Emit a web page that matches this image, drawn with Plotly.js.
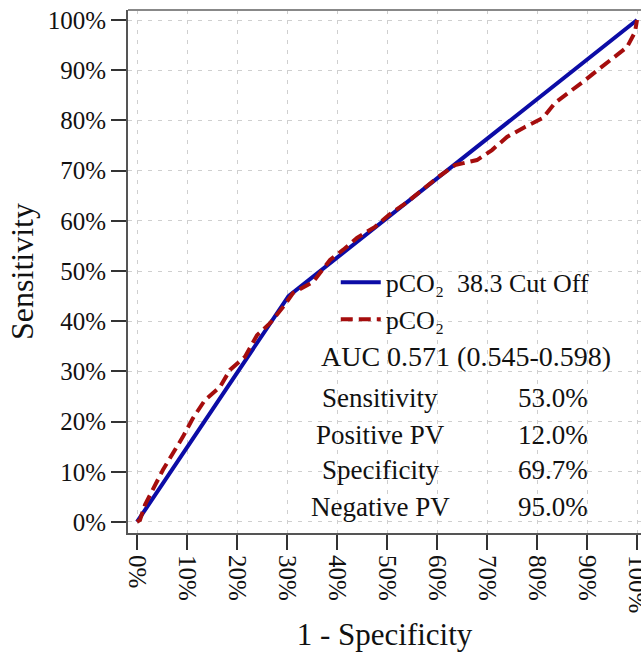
<!DOCTYPE html>
<html>
<head>
<meta charset="utf-8">
<script src="https://cdn.plot.ly/plotly-3.0.1.min.js"></script>
<style>html,body{margin:0;padding:0;background:#fff;}#chart{width:641px;height:652px;}</style>
</head>
<body>
<div id="chart"></div>
<script>
// Cut-off curve (1 - specificity %, sensitivity %)
const cutFpr = [0, 30.3, 100];
const cutSens = [0, 45.0, 100];
// Full ROC curve
const rocFpr = [0, 0.6, 1.6, 5.2, 9.2, 11.2, 13.6, 16.6, 18.6, 21.6, 24.0, 26.6, 29.2, 31.2, 35.2, 38.6, 41.2, 44.0, 47.6, 50.4, 54.0, 57.0, 60.2, 63.6, 68.0, 71.0, 74.0, 77.6, 81.2, 83.6, 86.6, 89.6, 92.6, 95.2, 98.0, 99.6, 100];
const rocSens = [0, 0.4, 3.4, 10.4, 17.0, 20.7, 24.3, 26.9, 30.3, 32.9, 37.2, 39.6, 42.8, 45.6, 47.8, 52.2, 54.2, 56.6, 58.8, 61.2, 63.7, 66.1, 68.7, 71.1, 72.1, 74.1, 76.7, 78.7, 80.5, 83.5, 85.7, 88.0, 90.4, 92.4, 94.6, 97.6, 100];
const seriesNames = ['pCO\u2082  38.3 Cut Off', 'pCO\u2082'];
const aucText = 'AUC 0.571 (0.545-0.598)';
const statLabels = ['Sensitivity', 'Positive PV', 'Specificity', 'Negative PV'];
const statValues = ['53.0%', '12.0%', '69.7%', '95.0%'];
const tickVals = [0, 10, 20, 30, 40, 50, 60, 70, 80, 90, 100];

const serif = 'Liberation Serif, Times New Roman, serif';

const traces = [
  {x: cutFpr, y: cutSens, mode: 'lines', name: seriesNames[0],
   line: {color: '#0c0ca6', width: 4}},
  {x: rocFpr, y: rocSens, mode: 'lines', name: seriesNames[1],
   line: {color: '#a50d0d', width: 4, dash: '12px,6px'}}
];

const statY = [24.7, 17.3, 10.4, 3.0];
const annotations = [
  {x: 65.8, y: 32.9, xref: 'x', yref: 'y', text: aucText, showarrow: false,
   xanchor: 'center', yanchor: 'middle', font: {family: serif, size: 28, color: '#111'}}
];
statLabels.forEach((t, i) => {
  annotations.push({x: 48.6, y: statY[i], xref: 'x', yref: 'y', text: t, showarrow: false,
    xanchor: 'center', yanchor: 'middle', font: {family: serif, size: 27, color: '#111'}});
  annotations.push({x: 90.6, y: statY[i], xref: 'x', yref: 'y', text: statValues[i], showarrow: false,
    xanchor: 'right', yanchor: 'middle', font: {family: serif, size: 27, color: '#111'}});
});

const axisCommon = {
  tickvals: tickVals, ticktext: tickVals.map(v => v + '%'),
  showgrid: true, gridcolor: '#cfcfcf', gridwidth: 1, griddash: '4px,6px',
  zeroline: false, showline: true, linecolor: '#555', linewidth: 2,
  ticks: 'outside', ticklen: 15, tickwidth: 2, tickcolor: '#333',
  tickfont: {family: serif, size: 25, color: '#111'}, automargin: false,
  ticklabeloverflow: 'allow', ticklabelstandoff: 0
};

const layout = {
  width: 641, height: 652,
  margin: {l: 128, r: 0, t: 10, b: 119},
  paper_bgcolor: '#fff', plot_bgcolor: '#fff',
  showlegend: true,
  legend: {x: 0.405, y: 0.524, xanchor: 'left', yanchor: 'top', bgcolor: 'rgba(0,0,0,0)',
    font: {family: serif, size: 26, color: '#111'}, tracegroupgap: 0, itemwidth: 40},
  xaxis: Object.assign({}, axisCommon, {range: [-1.8, 100.8], tickangle: 90,
    title: {text: '1 - Specificity', font: {family: serif, size: 31, color: '#111'}, standoff: 28}}),
  yaxis: Object.assign({}, axisCommon, {range: [-2.2, 102],
    title: {text: 'Sensitivity', font: {family: serif, size: 32, color: '#111'}, standoff: 4}}),
  annotations: annotations,
  shapes: [{type: 'line', xref: 'paper', yref: 'paper', x0: 0, x1: 1, y0: 1, y1: 1,
    line: {color: '#888', width: 2}}]
};

Plotly.newPlot('chart', traces, layout, {displayModeBar: false, staticPlot: true});
</script>
</body>
</html>
